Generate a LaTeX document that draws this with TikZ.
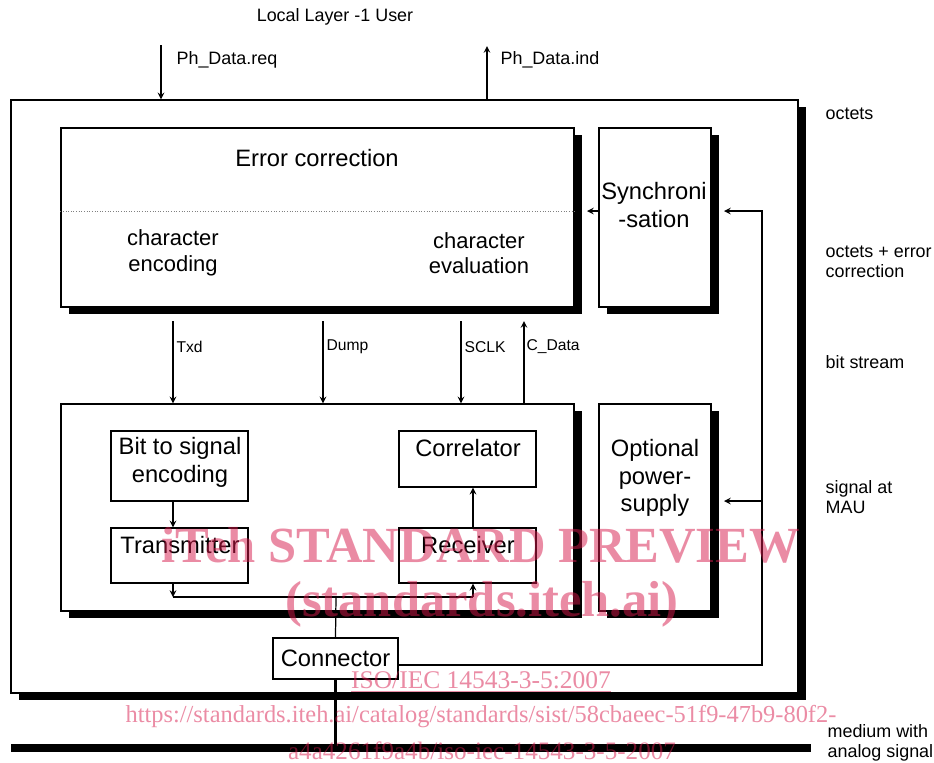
\documentclass[tikz,border=0pt]{standalone}
\usepackage{fontspec}
\setmainfont{Liberation Sans}
\newfontfamily\wmfont{Liberation Serif}
\usetikzlibrary{arrows.meta,shadows}
\definecolor{wmpink}{RGB}{215,25,75}

\tikzset{
  blk/.style={draw, line width=0.8pt, fill=white,
    drop shadow={shadow xshift=0.16cm, shadow yshift=-0.13cm, opacity=1, fill=black}},
  plain/.style={draw, line width=0.8pt, fill=white},
  sz/.style 2 args={minimum width=#1*0.02cm, minimum height=#2*0.02cm, inner sep=0pt},
  big/.style={font=\fontsize{13.5}{15.8}\selectfont, align=center},
  chartext/.style={font=\fontsize{12.5}{14.6}\selectfont, align=center},
  lbl/.style={font=\fontsize{10.2}{11.4}\selectfont, align=left, anchor=west, inner sep=0pt},
  sml/.style={font=\fontsize{8.9}{10}\selectfont, anchor=west, inner sep=0pt},
  wm/.style={text=wmpink, text opacity=0.5, inner sep=0pt},
}

\begin{document}
\begin{tikzpicture}[x=0.02cm, y=-0.02cm, >=stealth, line width=0.7pt]
\useasboundingbox (0,0) rectangle (934,762);

%% Rahmen und Bloecke (Mittelpunkt, Breite x Hoehe in Pixel)
\node[blk, sz={787}{593}] (outer) at (404.5,396.5) {};
\node[blk, sz={513}{179}] (ec) at (317.5,217.5) {};
\node[blk, sz={112}{179}] (sync) at (655,217.5) {};
\node[blk, sz={513}{207}] (phy) at (317.5,507.5) {};
\node[blk, sz={112}{207}] (power) at (655,507.5) {};

\node[plain, sz={137}{70}] (enc) at (179.5,466) {};
\node[plain, sz={137}{55}] (tx) at (179.5,555.5) {};
\node[plain, sz={137}{56}] (corr) at (467.5,459) {};
\node[plain, sz={137}{55}] (rx) at (467.5,555.5) {};
\node[plain, sz={125}{41}, big] (conn) at (335.5,658.5) {Connector};

%% gepunktete Trennlinie
\coordinate (split) at (0,211);
\draw[densely dotted, gray, line width=0.5pt] (ec.west |- split) -- (ec.east |- split);

%% Texte in den Bloecken
\node[big] (ectext) at (317,158) {Error correction};
\node[chartext] (chenc) at (173,253) {character\\encoding};
\node[chartext] (cheval) at (479,253) {character\\evaluation};
\node[big] (synctext) at (654,205) {Synchroni\\-sation};
\node[big] (enctext) at (180,462) {Bit to signal\\encoding};
\node[big] (corrtext) at (468,448) {Correlator};
\node[big] (txtext) at (180,545) {Transmitter};
\node[big] (rxtext) at (468,545) {Receiver};
\node[big] (powertext) at (655,478) {Optional\\power-\\supply};

%% Schnittstelle nach oben
\node[font=\fontsize{10.2}{11.4}\selectfont] (user) at (335,17) {Local Layer -1 User};
\coordinate (req) at (161,45);
\coordinate (ind) at (487,46);
\draw[->] (req) -- (req |- outer.north);
\draw[->] (ind |- outer.north) -- (ind);
\node[lbl] (reqlbl) at (176,60) {Ph\_Data.req};
\node[lbl] (indlbl) at (500,60) {Ph\_Data.ind};

%% Signale zwischen den Bloecken
\foreach \x/\name/\txt in {173/txd/Txd, 323/dump/Dump, 461/sclk/SCLK} {
  \coordinate (\name) at (\x,321);
  \draw[->] (\name) -- (\name |- phy.north);
  \node[sml] (\name lbl) at (\x+3,347) {\txt};
}
\coordinate (cdata) at (524,321);
\draw[->] (cdata |- phy.north) -- (cdata);
\node[sml] (cdatalbl) at (526,347) {C\_Data};

\coordinate (syncin) at (587,211);
\draw[->] (sync.west |- syncin) -- (syncin);

%% Rueckfuehrung vom Connector
\coordinate (rloop) at (762,665);
\coordinate (syncfb) at (724,211);
\coordinate (powfb) at (724,501);
\draw[->] (conn.east |- rloop) -- (rloop) |- (syncfb);
\draw[->] (rloop |- powfb) -- (powfb);

%% Sende-/Empfangszweig
\coordinate (bus) at (336,597);
\coordinate (txbus) at (173,597);
\coordinate (rxbus) at (473,597);
\draw[->] (txbus |- enc.south) -- (txbus |- tx.north);
\draw[->] (txbus |- tx.south) -- (txbus);
\draw (txbus) -- (rxbus);
\draw[->] (rxbus) -- (rxbus |- rx.south);
\draw[->] (rxbus |- rx.north) -- (rxbus |- corr.south);
\draw (bus) -- (conn.north);

%% Medium
\coordinate (medl) at (11,748);
\coordinate (medr) at (811,748);
\draw[line width=4.5pt] (medl) -- (medr);
\draw[line width=1.7pt] (conn.south) -- (conn.south |- medl);

%% Beschriftung rechts
\node[lbl] (oct) at (825,114) {octets};
\node[lbl] (octerr) at (825,262) {octets + error\\correction};
\node[lbl] (bits) at (825,362) {bit stream};
\node[lbl] (mau) at (825,497) {signal at\\MAU};
\node[lbl] (medium) at (827,743) {medium with\\analog signal};

%% Wasserzeichen
\node[wm, font={\wmfont\bfseries\fontsize{28.8}{30}\selectfont}] (wm1) at (481,545) {iTeh STANDARD PREVIEW};
\node[wm, font={\wmfont\bfseries\fontsize{28.8}{30}\selectfont}] (wm2) at (482,604) {(standards.iteh.ai)};
\node[wm, font={\wmfont\fontsize{14.5}{16}\selectfont}] (wm3) at (481,682) {\underline{ISO/IEC 14543-3-5:2007}};
\node[wm, font={\wmfont\fontsize{13.9}{15}\selectfont}] (wm4) at (481,717) {https://standards.iteh.ai/catalog/standards/sist/58cbaeec-51f9-47b9-80f2-};
\node[wm, font={\wmfont\fontsize{14.3}{15}\selectfont}] (wm5) at (482,751) {a4a4261f9a4b/iso-iec-14543-3-5-2007};
\end{tikzpicture}
\end{document}
